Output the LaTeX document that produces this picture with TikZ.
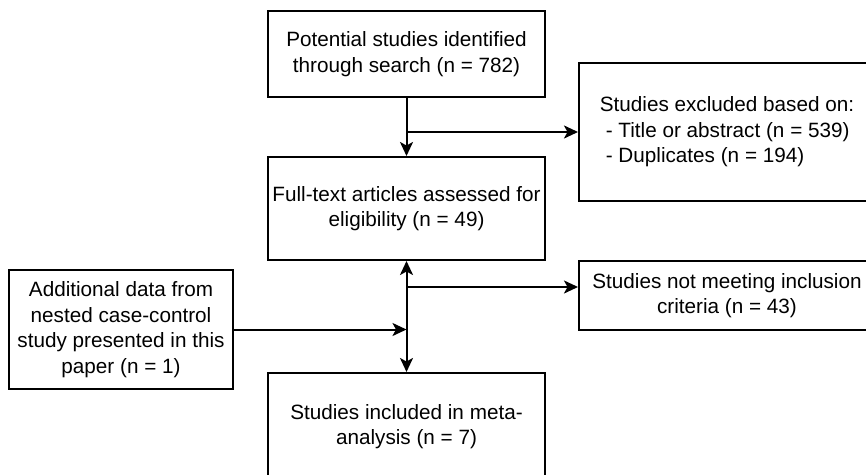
\documentclass[tikz,border=0pt]{standalone}
\usepackage{fontspec}
\setmainfont{Liberation Sans}
\usepackage{tikz}
\usetikzlibrary{arrows.meta}
\usetikzlibrary{positioning}

\begin{document}
\begin{tikzpicture}[x=1pt,y=-1pt,
  >={Stealth[length=14pt,width=13pt,inset=3.5pt]},
  box/.style={draw,line width=2pt,align=center,inner sep=0pt,font=\fontsize{20.7}{25.5}\selectfont},
  link/.style={line width=2pt}]
  \useasboundingbox (0,0) rectangle (866,474);
  \clip (0,0) rectangle (866,474);
  \node[box,minimum width=277,minimum height=86] (search) at (406.5,54) {Potential studies identified\\through search (n = 782)};
  \node[box,minimum width=296,minimum height=138,align=left] (excluded) at (727,132) {Studies excluded based on:\\\hspace{6pt}- Title or abstract (n = 539)\\\hspace{6pt}- Duplicates (n = 194)};
  \node[box,minimum width=277,minimum height=103] (fulltext) at (406.5,208.5) {Full-text articles assessed for\\eligibility (n = 49)};
  \node[box,minimum width=224,minimum height=119] (additional) at (121,329.5) {Additional data from\\nested case-control\\study presented in this\\paper (n = 1)};
  \node[box,minimum width=296,minimum height=69] (notmeet) at (727,295.5) {Studies not meeting inclusion\\criteria (n = 43)};
  \node[box,minimum width=277,minimum height=107] (included) at (406.5,426.5) {Studies included in meta-\\analysis (n = 7)};
  \coordinate (split) at (406.5,287);
  \draw[link,->] (search.south) -- (fulltext.north);
  \draw[link,->] (search.south |- excluded.west) -- (excluded.west);
  \draw[link,<->] (fulltext.south) -- (included.north);
  \draw[link,->] (split) -- (split -| notmeet.west);
  \draw[link,->] (additional.east) -- (additional.east -| split);
\end{tikzpicture}
\end{document}
